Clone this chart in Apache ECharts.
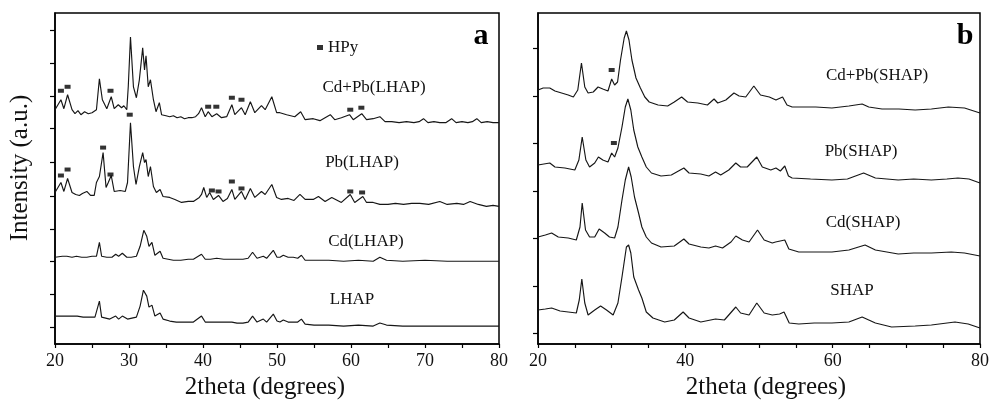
<!DOCTYPE html>
<html>
<head>
<meta charset="utf-8">
<script src="https://cdn.jsdelivr.net/npm/echarts@6.0.0/dist/echarts.min.js"></script>
<style>
html,body{margin:0;padding:0;background:#fff;}
#chart{width:992px;height:405px;}
</style>
</head>
<body>
<div id="chart"></div>
<script>
// ---- Data: [2theta (degrees), intensity (a.u., stacked offset)] ----
const xTicksA = [20, 30, 40, 50, 60, 70, 80];
const xTicksB = [20, 40, 60, 80];
const yTicksA = [17, 50, 83, 115, 148, 182, 216, 248, 282, 315];
const yTicksB = [11, 58, 106, 153, 201, 248, 296];

const lhapCdPb = [[20,235],[20.8,245],[21.2,236],[21.7,250],[22.3,235],[22.7,231],[23.1,234],[23.5,230],[24.0,233],[24.5,231],[25.0,232],[25.6,235],[26.0,266],[26.4,245],[27.0,236],[27.6,248],[28.0,236],[28.55,240],[29.0,237],[29.3,239],[29.7,235],[29.9,258],[30.2,308],[30.6,258],[31.0,247],[31.4,265],[31.85,297],[32.1,275],[32.3,289],[32.6,258],[32.9,265],[33.3,245],[33.65,233],[34.1,242],[34.4,230],[35.0,229],[35.5,228],[36.0,229],[36.5,227],[37.0,228],[37.5,226],[38.0,227],[38.5,227],[39.0,228],[39.4,231],[39.8,237],[40.3,228],[40.7,233],[41.2,228],[41.85,231],[42.5,227],[43.2,228],[43.9,240],[44.3,230],[45.2,237],[45.7,230],[46.4,243],[47.0,232],[47.9,239],[48.4,235],[49.3,248],[49.95,232],[50.4,232],[51.3,230],[52.4,228],[53.2,233],[53.8,225],[54.9,226],[55.8,224],[57.2,230],[57.8,225],[58.7,227],[59.8,230],[60.3,225],[61.45,231],[62.1,225],[63.0,226],[63.9,228],[64.6,223],[65.5,223],[66.5,222],[67.5,223],[68.5,222],[69.2,223],[69.8,226],[70.4,222],[71.2,223],[72.0,222],[72.8,222],[73.6,226],[74.2,222],[75.0,223],[75.8,222],[76.4,223],[77.0,226],[77.6,222],[78.4,223],[79.2,222],[80,222]];
const lhapPb = [[20,152],[20.8,162],[21.2,153],[21.7,166],[22.3,152],[22.8,150],[23.3,149],[23.7,151],[24.3,153],[24.8,149],[25.3,149],[25.6,162],[26.0,168],[26.5,192],[26.9,157],[27.2,162],[27.6,169],[28.0,153],[28.8,154],[29.5,153],[29.8,162],[30.2,222],[30.6,178],[30.95,160],[31.4,178],[31.85,192],[32.1,182],[32.3,185],[32.6,168],[32.9,178],[33.3,158],[33.7,152],[34.2,155],[34.6,148],[35.5,147],[36.2,145],[37.1,142],[38.0,143],[38.7,143],[39.5,147],[39.8,150],[40.1,157],[40.5,147],[40.9,152],[41.4,145],[42.1,149],[42.7,143],[43.3,146],[43.9,155],[44.3,145],[45.2,153],[45.7,145],[46.4,156],[47.0,147],[47.9,153],[48.4,150],[49.3,160],[49.95,147],[50.6,145],[51.5,146],[52.3,144],[53.1,150],[53.8,145],[54.9,145],[55.6,148],[56.5,143],[57.4,147],[58.7,142],[59.9,150],[60.5,142],[61.6,148],[62.1,142],[63.0,142],[63.9,140],[65.0,140],[66.0,141],[67.1,140],[68.2,141],[69.3,141],[70.5,140],[72.0,143],[73.0,140],[74.3,141],[75.2,140],[76.1,143],[77.2,140],[78.3,138],[79.2,139],[80,138]];
const lhapCd = [[20,87],[21.0,88],[21.6,88],[22.3,87],[22.9,88],[23.6,87],[24.3,87],[25.0,88],[25.6,88],[26.0,102],[26.3,88],[27.0,87],[27.7,87],[28.2,90],[28.6,88],[29.1,91],[29.7,87],[30.3,87],[31.0,88],[31.5,98],[32.0,114],[32.4,108],[32.7,98],[33.1,102],[33.5,89],[34.2,93],[34.6,86],[35.3,85],[36.0,84],[37.0,84],[38.0,85],[38.7,85],[39.8,90],[40.3,85],[41.0,85],[41.85,86],[42.8,85],[43.9,85],[44.6,85],[45.4,85],[46.1,86],[46.7,92],[47.3,86],[48.15,88],[48.6,86],[49.5,94],[50.0,87],[50.4,87],[50.85,89],[51.5,87],[52.2,87],[52.8,86],[53.3,89],[53.8,84],[55.0,84],[57.0,84],[59.0,83],[61.0,84],[63.0,83],[63.9,87],[64.8,84],[67.0,83],[70.0,84],[73.0,83],[76.0,83],[80,83]];
const lhap = [[20,28],[21.0,28],[22.0,28],[23.0,28],[23.8,27],[24.6,27],[25.4,27],[26.0,43],[26.3,27],[27.4,25],[28.2,28],[28.6,25],[29.1,28],[29.8,25],[30.4,26],[31.0,27],[31.5,38],[31.95,54],[32.4,48],[32.7,37],[33.1,39],[33.5,28],[34.2,31],[34.6,25],[35.5,23],[36.4,22],[37.5,22],[38.7,22],[39.8,28],[40.3,22],[41.0,22],[41.85,22],[42.8,22],[43.9,22],[44.6,21],[45.4,21],[46.1,22],[46.7,28],[47.3,22],[48.15,25],[48.6,22],[49.5,30],[50.0,23],[50.4,22],[50.85,24],[51.5,22],[52.2,22],[52.8,22],[53.3,25],[53.8,20],[55.0,19],[57.0,19],[59.0,18],[61.0,19],[63.0,18],[63.9,21],[64.8,19],[67.0,18],[70.0,18],[73.0,18],[76.0,18],[80,18]];

const shapCdPb = [[20,254],[20.7,256],[21.6,256],[22.3,253],[23.2,251],[24.1,249],[24.8,247],[25.4,254],[25.9,281],[26.35,257],[26.8,251],[27.5,252],[28.15,257],[28.8,255],[29.5,253],[30.0,265],[30.4,259],[30.8,262],[31.2,284],[31.7,306],[32.0,313],[32.35,304],[32.75,284],[33.3,266],[33.9,256],[34.5,247],[35.1,242],[36.3,239],[37.6,238],[38.5,242],[39.5,247],[40.3,242],[41.7,241],[43.0,239],[43.9,245],[44.4,241],[45.5,244],[46.6,251],[47.3,248],[48.2,247],[49.3,258],[50.2,249],[51.4,247],[52.3,244],[53.2,247],[53.8,239],[54.5,237],[56.0,237],[57.7,237],[59.9,236],[62.2,238],[64.0,240],[64.9,237],[66.7,235],[69.0,235],[71.2,234],[73.4,235],[75.7,237],[77.9,236],[80,231]];
const shapPb = [[20,179],[20.8,180],[21.6,181],[22.3,177],[23.65,176],[25.0,174],[25.55,184],[26.0,207],[26.5,184],[27.0,177],[27.7,181],[28.2,187],[28.8,184],[29.5,182],[30.0,191],[30.4,187],[30.85,196],[31.4,217],[31.85,237],[32.2,245],[32.6,234],[33.0,214],[33.55,197],[34.1,187],[34.7,177],[35.4,171],[36.7,168],[38.1,169],[39.8,176],[40.5,171],[42.1,170],[43.2,168],[44.1,172],[44.8,169],[45.9,174],[46.85,181],[47.5,177],[48.4,177],[49.7,187],[50.45,177],[51.6,174],[52.3,176],[52.9,173],[53.5,178],[54.0,168],[54.5,166],[57.0,165],[59.9,164],[62.0,165],[64.2,171],[65.8,166],[68.9,164],[71.0,165],[73.4,164],[75.5,165],[77.0,166],[78.5,165],[80,161]];
const shapCd = [[20,107],[21.0,109],[21.85,111],[22.75,107],[24.1,106],[25.2,104],[25.7,117],[26.0,141],[26.45,114],[27.0,107],[27.7,107],[28.3,115],[29.05,111],[29.7,107],[30.4,106],[30.85,117],[31.4,144],[31.85,164],[32.3,177],[32.65,167],[33.1,147],[33.65,131],[34.1,117],[34.7,107],[35.4,101],[36.7,97],[38.5,98],[39.8,105],[40.5,100],[42.1,97],[43.2,96],[44.1,98],[45.05,96],[46.2,102],[46.85,108],[47.75,104],[48.65,102],[49.8,114],[50.7,104],[51.8,101],[52.25,102],[53.5,104],[54.05,95],[55.4,92],[57.5,92],[59.9,92],[62.2,94],[64.4,99],[65.8,94],[68.9,90],[71.0,91],[73.4,91],[76.1,92],[77.9,91],[80,88]];
const shap = [[20,34],[21.0,35],[21.85,36],[23.0,33],[24.1,32],[25.2,31],[25.6,44],[25.95,65],[26.35,41],[26.8,29],[27.7,34],[28.5,38],[29.3,34],[30.2,29],[30.85,41],[31.4,67],[32.0,97],[32.3,99],[32.6,91],[33.0,67],[33.65,54],[34.1,46],[34.7,32],[35.6,26],[37.2,22],[38.5,24],[39.7,32],[40.5,26],[42.1,22],[44.1,25],[45.3,24],[46.85,37],[47.5,31],[48.65,29],[49.7,41],[50.7,31],[51.8,29],[52.8,30],[53.4,32],[54.1,21],[55.4,20],[57.5,21],[59.9,21],[62.2,22],[64.0,27],[65.8,21],[68.0,17],[71.2,18],[73.4,19],[76.6,22],[78.4,20],[80,16]];

// HPy reflection markers
const hpyA = [[20.8,254],[21.7,258],[27.5,254],[30.1,230],[40.7,238],[41.8,238],[43.9,247],[45.2,245],[59.9,235],[61.4,237],
              [20.8,169],[21.7,175],[26.5,197],[27.5,170],[41.2,154],[42.1,153],[43.9,163],[45.2,156],[59.9,153],[61.5,152]];
const hpyB = [[30.0,274],[30.3,201]];

const namesA = ['Cd+Pb(LHAP)', 'Pb(LHAP)', 'Cd(LHAP)', 'LHAP'];
const namesB = ['Cd+Pb(SHAP)', 'Pb(SHAP)', 'Cd(SHAP)', 'SHAP'];

// ---- Chart ----
const FONT = '"Liberation Serif", "Times New Roman", serif';
const INK = '#111';
const chart = echarts.init(document.getElementById('chart'), null, {renderer: 'canvas'});

function xAxisCfg(grid, interval, ticks, pad) {
  return {
    type: 'value', gridIndex: grid, min: 20, max: 80, interval: interval,
    axisLine: {show: true, onZero: false, lineStyle: {color: '#000', width: 1.5}},
    axisTick: {show: true, length: 4, lineStyle: {color: '#000', width: 1.2}},
    minorTick: {show: true, splitNumber: interval / 5, length: 4, lineStyle: {color: '#000', width: 1.2}},
    splitLine: {show: false},
    axisLabel: {color: INK, fontFamily: FONT, fontSize: 18, margin: 8,
      customValues: ticks},
    name: '2theta (degrees)', nameLocation: 'middle', nameGap: 31,
    nameTextStyle: {color: INK, fontFamily: FONT, fontSize: 25, padding: pad}
  };
}
function yAxisCfg(grid, max, ticks) {
  return {
    type: 'value', gridIndex: grid, min: 0, max: max,
    axisLine: {show: true, onZero: false, lineStyle: {color: '#000', width: 1.5}},
    axisTick: {show: true, length: 5, customValues: ticks, lineStyle: {color: '#000', width: 1.2}},
    axisLabel: {show: false},
    splitLine: {show: false}
  };
}
function lineSeries(name, data, idx) {
  return {
    type: 'line', name: name, data: data, xAxisIndex: idx, yAxisIndex: idx,
    showSymbol: false, symbol: 'none', silent: true,
    lineStyle: {color: '#161616', width: 1.15}
  };
}
function label(text, x, y) {
  return {type: 'text', x: x, y: y, silent: true,
    style: {text: text, fill: INK, font: '17px ' + FONT, align: 'center', verticalAlign: 'middle'}};
}

const series = [];
[lhapCdPb, lhapPb, lhapCd, lhap].forEach((d, i) => series.push(lineSeries(namesA[i], d, 0)));
[shapCdPb, shapPb, shapCd, shap].forEach((d, i) => series.push(lineSeries(namesB[i], d, 1)));
series.push({type: 'scatter', name: 'HPy', data: hpyA, xAxisIndex: 0, yAxisIndex: 0,
  symbol: 'rect', symbolSize: [6, 4], itemStyle: {color: '#000'}, silent: true, z: 5});
series.push({type: 'scatter', name: 'HPy', data: hpyB, xAxisIndex: 1, yAxisIndex: 1,
  symbol: 'rect', symbolSize: [6, 4], itemStyle: {color: '#000'}, silent: true, z: 5});

chart.setOption({
  backgroundColor: '#fff',
  animation: false,
  grid: [
    {left: 55, top: 13, width: 444, height: 332, show: true, borderColor: '#000', borderWidth: 1.5, backgroundColor: 'transparent'},
    {left: 538, top: 13, width: 444, height: 331, show: true, borderColor: '#000', borderWidth: 1.5, backgroundColor: 'transparent'}
  ],
  xAxis: [xAxisCfg(0, 10, xTicksA, [0, 24, 0, 0]), xAxisCfg(1, 20, xTicksB, [0, 0, 0, 14])],
  yAxis: [yAxisCfg(0, 332, yTicksA), yAxisCfg(1, 331, yTicksB)],
  legend: {
    data: ['HPy'], left: 312, top: 34, itemWidth: 6, itemHeight: 5, itemGap: 5,
    icon: 'rect', selectedMode: false,
    textStyle: {color: INK, fontFamily: FONT, fontSize: 17, padding: [0, 0, 0, 0]}
  },
  series: series,
  graphic: [
    {type: 'text', x: 20, y: 168, rotation: Math.PI / 2, silent: true,
      style: {text: 'Intensity (a.u.)', fill: INK, font: '25px ' + FONT, align: 'center', verticalAlign: 'middle'}},
    {type: 'text', x: 481, y: 36, silent: true,
      style: {text: 'a', fill: '#000', font: 'bold 30px ' + FONT, align: 'center', verticalAlign: 'middle'}},
    {type: 'text', x: 965, y: 36, silent: true,
      style: {text: 'b', fill: '#000', font: 'bold 30px ' + FONT, align: 'center', verticalAlign: 'middle'}},
    label(namesA[0], 374, 88), label(namesA[1], 362, 163), label(namesA[2], 366, 242), label(namesA[3], 352, 300),
    label(namesB[0], 877, 76), label(namesB[1], 861, 152), label(namesB[2], 863, 223), label(namesB[3], 852, 291)
  ]
});
</script>
</body>
</html>
